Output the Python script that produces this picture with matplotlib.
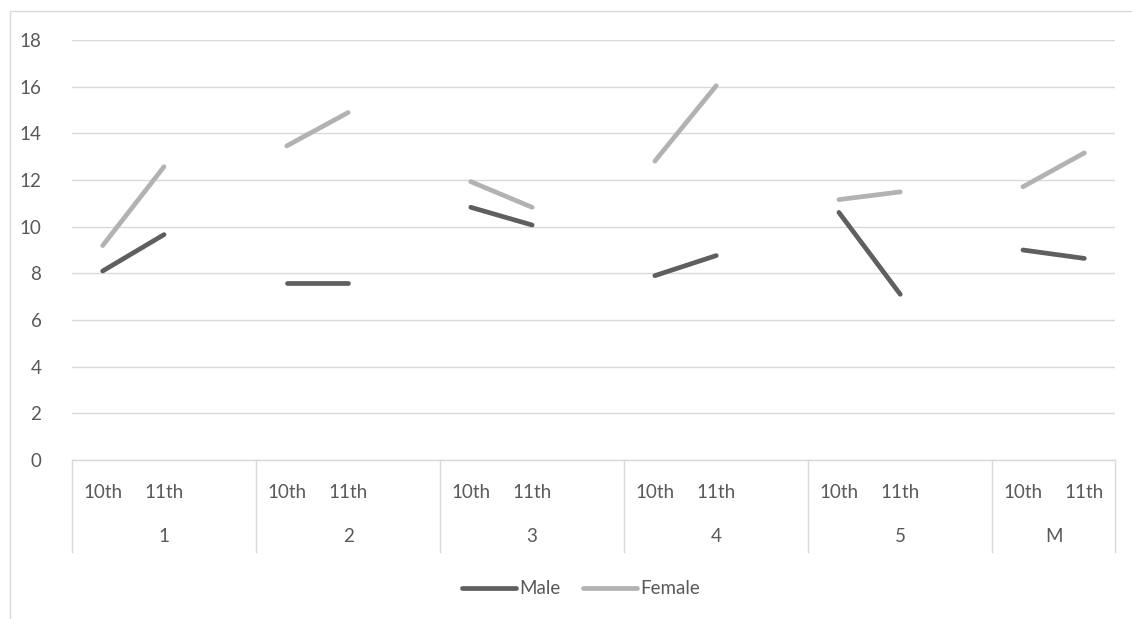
import numpy as np
import matplotlib
matplotlib.use("Agg")
import matplotlib.pyplot as plt
from matplotlib.patches import Rectangle

plt.rcParams["font.family"] = ["Lato", "DejaVu Sans"]

groups = ["1", "2", "3", "4", "5", "M"]
grades = ["10th", "11th"]
male = [8.1, 9.66, 7.57, 7.57, 10.83, 10.07, 7.9, 8.76, 10.61, 7.1, 9.0, 8.64]
female = [9.19, 12.57, 13.46, 14.89, 11.93, 10.83, 12.81, 16.04, 11.16, 11.49, 11.71, 13.16]

TEXT = "#595959"
GRID = "#D9D9D9"
MALE_C = "#5F5F5F"
FEMALE_C = "#B2B2B2"
FS = 13.5

# each group takes 3 category slots (10th, 11th, blank); last group has no blank
n_slots = 3 * len(groups) - 1
x_pos = []
for g in range(len(groups)):
    x_pos += [3 * g + 0.5, 3 * g + 1.5]
x_pos = np.array(x_pos)

fig = plt.figure(figsize=(11.32, 6.19), dpi=100)
fig.patches.append(Rectangle((10 / 1132, -0.1), 1.2, (619 - 11) / 619 + 0.1,
                             transform=fig.transFigure, fill=False,
                             edgecolor=GRID, linewidth=1.0))
ax = fig.add_axes([72 / 1132, 159 / 619, (1115 - 72) / 1132, 420 / 619])

for vals, color, name in [(male, MALE_C, "Male"), (female, FEMALE_C, "Female")]:
    vals = np.array(vals)
    for g in range(len(groups)):
        seg = slice(2 * g, 2 * g + 2)
        ax.plot(x_pos[seg], vals[seg], color=color, linewidth=3.4,
                solid_capstyle="round", label=name if g == 0 else None)

ax.set_xlim(0, n_slots)
ax.set_ylim(0, 18)
ax.set_yticks(np.arange(0, 19, 2))
ax.yaxis.grid(True, color=GRID, linewidth=1.0)
ax.set_axisbelow(True)
ax.tick_params(axis="y", length=0, pad=22, labelsize=FS, labelcolor=TEXT)
ax.tick_params(axis="x", length=0, labelbottom=False)
for s in ["top", "right", "left"]:
    ax.spines[s].set_visible(False)
ax.spines["bottom"].set_color(GRID)
ax.spines["bottom"].set_linewidth(1.0)

# multi-level category table below the axis
xt = ax.get_xaxis_transform()
bounds = [3 * g for g in range(len(groups))] + [n_slots]
for b in bounds:
    ax.plot([b, b], [0, -92 / 420], transform=xt, color=GRID, linewidth=1.0, clip_on=False)
for g, name in enumerate(groups):
    for k, grade in enumerate(grades):
        ax.text(x_pos[2 * g + k], -32 / 420, grade, transform=xt, ha="center", va="center",
                fontsize=FS, color=TEXT)
    ax.text((bounds[g] + bounds[g + 1]) / 2, -77 / 420, name, transform=xt, ha="center",
            va="center", fontsize=FS, color=TEXT)

leg = fig.legend(loc="center", bbox_to_anchor=(581 / 1132, 1 - 589 / 619), ncol=2,
                 frameon=False, fontsize=FS, handlelength=2.9, handletextpad=0.15,
                 columnspacing=1.2, labelcolor=TEXT)

fig.savefig("out.png", dpi=100)
